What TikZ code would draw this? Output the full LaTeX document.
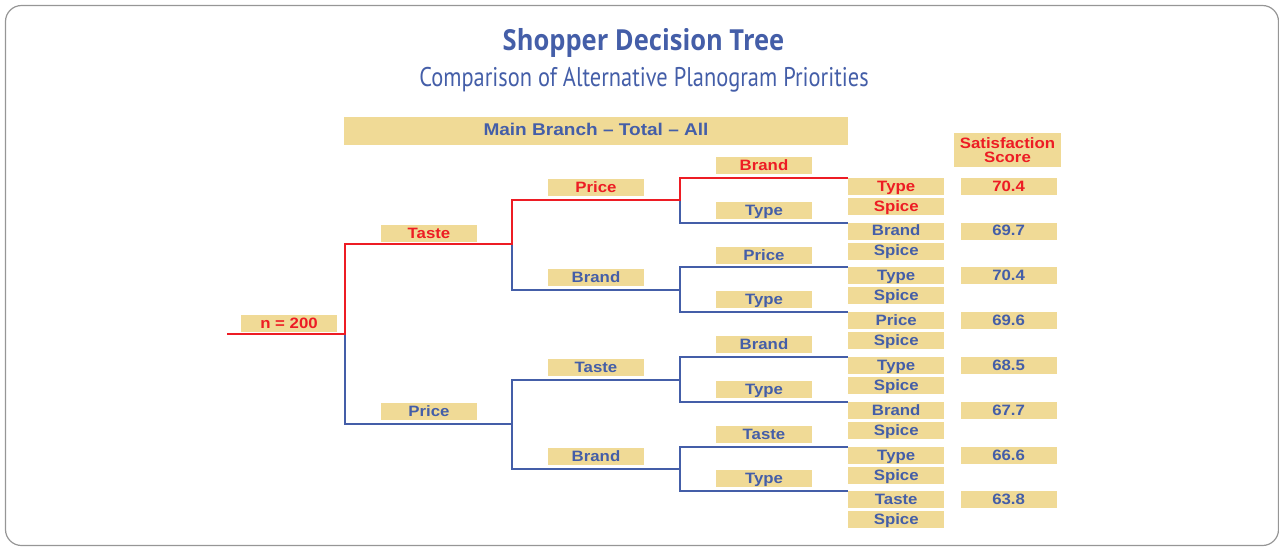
\documentclass[tikz,border=0pt]{standalone}
\usepackage{fontspec}
\setmainfont{Liberation Sans}
\newfontfamily\labelfont[FakeStretch=1.12]{Liberation Sans}
\newfontfamily\titlefont[FakeStretch=0.88]{Open Sans}
\newfontfamily\subtitlefont[FakeStretch=0.83]{PT Sans}
\usetikzlibrary{positioning}
\definecolor{treered}{RGB}{237, 28, 36}
\definecolor{treeblue}{RGB}{68, 94, 168}
\definecolor{boxtan}{RGB}{240, 218, 150}
\definecolor{framegray}{RGB}{150, 150, 150}
\tikzset{
labelbox/.style={
  fill=boxtan,
  minimum width=96pt,
  minimum height=17pt,
  inner sep=0pt,
  text height=11.5pt,
  text depth=2.5pt,
  font=\labelfont\bfseries\fontsize{15}{15}\selectfont,
  text=treeblue
},
hotbox/.style={
  labelbox,
  text=treered
},
headbox/.style={
  fill=boxtan,
  inner sep=0pt,
  align=center,
  font=\labelfont\bfseries\fontsize{15}{13.5}\selectfont,
  text=treered
},
titletext/.style={
  font=\titlefont\bfseries\fontsize{29}{29}\selectfont,
  text=treeblue
},
subtitletext/.style={
  font=\subtitlefont\fontsize{27}{27}\selectfont,
  text=treeblue
},
redline/.style={
  draw=treered,
  line width=2pt
},
blueline/.style={
  draw=treeblue,
  line width=2pt
}
}
\begin{document}
\begin{tikzpicture}[x=1pt, y=-1pt]
  \useasboundingbox (0,0) rectangle (1279,547);
  \draw[framegray, line width=1.2pt, rounded corners=16pt] (5.5,5.5) rectangle (1278.5,545.5);

  % headings
  \node[titletext, anchor=base] (title) at (643.5,50) {Shopper Decision Tree};
  \node[subtitletext, anchor=base] (subtitle) at (644,86) {Comparison of Alternative Planogram Priorities};
  \node[labelbox, minimum width=504pt, minimum height=28pt, text height=12pt, font=\labelfont\bfseries\fontsize{17}{17}\selectfont] (mainbranch) at (596,131) {Main Branch – Total – All};
  \node[headbox, minimum width=107pt, minimum height=34pt] (scorehead) at (1007.5,150) {Satisfaction\\Score};

  % branch labels
  \node[hotbox] (root) at (289,323.5) {n = 200};
  \node[hotbox] (taste) at (429,233.5) {Taste};
  \node[labelbox] (price) at (429,411.5) {Price};
  \node[hotbox] (tprice) at (596,187.5) {Price};
  \node[labelbox] (tbrand) at (596,277.5) {Brand};
  \node[labelbox] (ptaste) at (596,367.5) {Taste};
  \node[labelbox] (pbrand) at (596,456.5) {Brand};
  \node[hotbox] (tpbrand) at (764,165.5) {Brand};
  \node[labelbox] (tptype) at (764,210.5) {Type};
  \node[labelbox] (tbprice) at (764,255.5) {Price};
  \node[labelbox] (tbtype) at (764,299.5) {Type};
  \node[labelbox] (ptbrand) at (764,344.5) {Brand};
  \node[labelbox] (pttype) at (764,389.5) {Type};
  \node[labelbox] (pbtaste) at (764,434.5) {Taste};
  \node[labelbox] (pbtype) at (764,478.5) {Type};

  % leaves
  \node[hotbox, anchor=north west] (leafa) at (848,178) {Type};
  \node[hotbox, below=2.5pt of leafa] (spicea) {Spice};
  \node[labelbox, anchor=north west] (leafb) at (848,222.5) {Brand};
  \node[labelbox, below=2.5pt of leafb] (spiceb) {Spice};
  \node[labelbox, anchor=north west] (leafc) at (848,267) {Type};
  \node[labelbox, below=2.5pt of leafc] (spicec) {Spice};
  \node[labelbox, anchor=north west] (leafd) at (848,312) {Price};
  \node[labelbox, below=2.5pt of leafd] (spiced) {Spice};
  \node[labelbox, anchor=north west] (leafe) at (848,357) {Type};
  \node[labelbox, below=2.5pt of leafe] (spicee) {Spice};
  \node[labelbox, anchor=north west] (leaff) at (848,402) {Brand};
  \node[labelbox, below=2.5pt of leaff] (spicef) {Spice};
  \node[labelbox, anchor=north west] (leafg) at (848,447) {Type};
  \node[labelbox, below=2.5pt of leafg] (spiceg) {Spice};
  \node[labelbox, anchor=north west] (leafh) at (848,491) {Taste};
  \node[labelbox, below=2.5pt of leafh] (spiceh) {Spice};

  % scores
  \node[hotbox, right=16pt of leafa] (scorea) {70.4};
  \node[labelbox, right=16pt of leafb] (scoreb) {69.7};
  \node[labelbox, right=16pt of leafc] (scorec) {70.4};
  \node[labelbox, right=16pt of leafd] (scored) {69.6};
  \node[labelbox, right=16pt of leafe] (scoree) {68.5};
  \node[labelbox, right=16pt of leaff] (scoref) {67.7};
  \node[labelbox, right=16pt of leafg] (scoreg) {66.6};
  \node[labelbox, right=16pt of leafh] (scoreh) {63.8};

  % forks
  \coordinate (start) at (227,334);
  \coordinate (fork) at (345,334);
  \coordinate (tfork) at (512,244);
  \coordinate (pfork) at (512,424);
  \coordinate (tpfork) at (680,200);
  \coordinate (tbfork) at (680,290);
  \coordinate (ptfork) at (680,380);
  \coordinate (pbfork) at (680,469);

  \draw[blueline] (fork) |- (pfork);
  \draw[blueline] (tfork) |- (tbfork);
  \draw[blueline] (tpfork) |- (leafb.north west);
  \draw[blueline] (tbfork) |- (leafc.north west);
  \draw[blueline] (tbfork) |- (leafd.north west);
  \draw[blueline] (pfork) |- (ptfork);
  \draw[blueline] (pfork) |- (pbfork);
  \draw[blueline] (ptfork) |- (leafe.north west);
  \draw[blueline] (ptfork) |- (leaff.north west);
  \draw[blueline] (pbfork) |- (leafg.north west);
  \draw[blueline] (pbfork) |- (leafh.north west);
  \draw[redline] (start) -- (fork) |- (tfork) |- (tpfork) |- (leafa.north west);
\end{tikzpicture}
\end{document}
